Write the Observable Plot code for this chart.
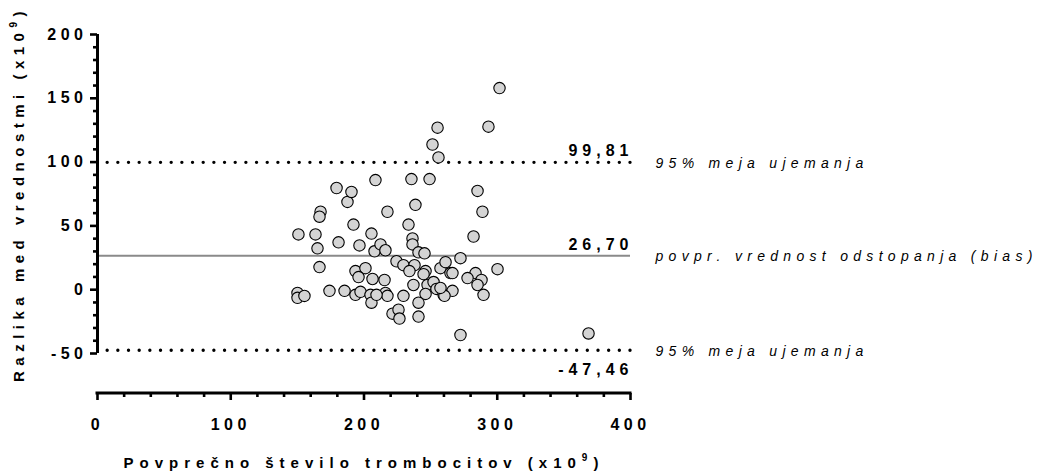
<!DOCTYPE html>
<html>
<head>
<meta charset="utf-8">
<script src="https://cdn.jsdelivr.net/npm/d3@7"></script>
<script src="https://cdn.jsdelivr.net/npm/@observablehq/plot@0.6"></script>
<style>
  html, body { margin: 0; padding: 0; background: #fff; }
  #chart { width: 1037px; height: 474px; }
</style>
</head>
<body>
<div id="chart"></div>
<script>
// Average of the two methods (x10^9)
const avgCount = [
  150.8, 163.6, 165.1, 180.9, 166.6, 150.1, 150.1, 155.3, 174.1, 185.4,
  167.4, 166.6, 187.6, 192.1, 193.6, 179.4, 190.6, 196.6, 205.6, 207.9,
  208.6, 201.1, 195.9, 206.4, 193.6, 197.4, 204.9, 205.6, 235.6, 249.2,
  238.6, 217.6, 233.4, 236.4, 236.4, 212.4, 216.1, 240.9, 245.4, 224.4,
  229.6, 237.9, 234.1, 246.2, 244.7, 257.4, 261.2, 264.9, 215.4, 237.1,
  247.7, 252.2, 254.4, 246.2, 240.9, 259.7, 229.6, 216.1, 217.6, 209.4,
  221.4, 225.9, 226.6, 240.9, 301.7, 293.4, 255.2, 251.4, 255.9, 285.2,
  288.9, 282.2, 272.4, 266.4, 300.2, 283.7, 277.7, 288.2, 285.2, 289.7,
  266.4, 260.4, 257.4, 272.4, 368.5
];
// Difference between the two methods (x10^9)
const diffCount = [
  43.3, 43.3, 32.4, 37.1, 17.7, -2.5, -6.4, -4.9, -0.9, -0.9,
  61.1, 57.2, 68.8, 51.0, 14.6, 79.7, 76.6, 34.7, 44.0, 30.1,
  85.9, 16.9, 9.9, 8.4, -4.0, -1.7, -4.0, -10.2, 86.7, 86.7,
  66.5, 61.1, 51.0, 40.2, 35.5, 35.5, 30.9, 29.3, 28.5, 22.3,
  19.2, 19.2, 14.6, 14.6, 12.2, 16.9, 21.6, 13.0, 7.6, 3.7,
  3.7, 6.0, 0.6, -3.3, -10.2, -4.0, -4.8, -2.5, -4.8, -4.0,
  -18.8, -15.7, -22.6, -21.1, 158.0, 127.8, 127.0, 113.8, 103.7, 77.4,
  61.1, 41.7, 24.7, 13.0, 16.1, 13.0, 9.1, 7.6, 3.7, -4.0,
  -0.9, -4.8, 1.4, -35.5, -34.3
];

// Reference lines: upper limit, bias, lower limit
const limitValues = [99.81, 26.70, -47.46];
const limitText = ["99,81", "26,70", "-47,46"];
const limitDesc = ["95% meja ujemanja", "povpr. vrednost odstopanja (bias)", "95% meja ujemanja"];

// Axis ticks
const xTicks = [0, 100, 200, 300, 400];
const xMinorTicks = [20, 40, 60, 80, 120, 140, 160, 180, 220, 240, 260, 280, 320, 340, 360, 380];
const yTicks = [-50, 0, 50, 100, 150, 200];
const yMinorTicks = [-40, -30, -20, -10, 10, 20, 30, 40, 60, 70, 80, 90, 110, 120, 130, 140, 160, 170, 180, 190];

const xTitle = "Povprečno število trombocitov (x10";
const yTitle = "Razlika med vrednostmi (x10";
const superscript = "9";

const points = avgCount.map((x, i) => ({x, y: diffCount[i]}));
const upperLower = [limitValues[0], limitValues[2]];

const FONT = "'Liberation Sans', Arial, Helvetica, sans-serif";

const xAxisLine = (index, scales, values, dims) => {
  const yPos = dims.height - dims.marginBottom;
  const line = d3.create("svg:line")
    .attr("x1", scales.x(xTicks[0]))
    .attr("x2", scales.x(xTicks[xTicks.length - 1]))
    .attr("y1", yPos).attr("y2", yPos)
    .attr("stroke", "black").attr("stroke-width", 3)
    .attr("stroke-linecap", "square");
  return line.node();
};

const chart = Plot.plot({
  width: 1037,
  height: 474,
  marginLeft: 97,
  marginRight: 407,
  marginTop: 34,
  marginBottom: 81,
  x: {domain: [0, 400]},
  y: {domain: [-50, 200], range: [353, 34]},
  style: {fontFamily: FONT, fontSize: "16px", color: "black", background: "white", overflow: "visible"},
  marks: [
    // limit lines (dotted)
    Plot.ruleY(upperLower, {x1: 400, x2: 0, stroke: "black", strokeWidth: 3.4, strokeDasharray: "0,10.67", strokeLinecap: "round"}),
    // bias line
    Plot.ruleY([limitValues[1]], {x1: 0, x2: 400, stroke: "#8a8a8a", strokeWidth: 2}),
    // y axis
    Plot.ruleX([0], {y1: -50, y2: 200, stroke: "black", strokeWidth: 3}),
    Plot.axisY(yTicks, {anchor: "left", tickSize: 7, strokeWidth: 2.6, tickPadding: 3, fontWeight: "bold", fontSize: 16, label: null, tickFormat: d => String(d)}),
    Plot.axisY(yMinorTicks, {anchor: "left", tickSize: 4, strokeWidth: 2.6, label: null, tickFormat: () => ""}),
    // x axis
    xAxisLine,
    Plot.axisX(xTicks, {anchor: "bottom", tickSize: 7, strokeWidth: 2.6, tickPadding: 18, fontWeight: "bold", fontSize: 16, label: null, tickFormat: d => String(d)}),
    Plot.axisX(xMinorTicks, {anchor: "bottom", tickSize: 4, strokeWidth: 2.6, label: null, tickFormat: () => ""}),
    // data points
    Plot.dot(points, {x: "x", y: "y", r: 5.7, fill: "#d4d4d4", stroke: "black", strokeWidth: 1.1}),
    // value labels
    Plot.text([0, 1], {y: i => limitValues[i], text: i => limitText[i], frameAnchor: "right", textAnchor: "end", dy: -11, dx: 3, fontWeight: "bold", fontSize: 16}),
    Plot.text([2], {y: i => limitValues[i], text: i => limitText[i], frameAnchor: "right", textAnchor: "end", dy: 20, dx: 3, fontWeight: "bold", fontSize: 16}),
    // descriptions
    Plot.text([0, 1, 2], {y: i => limitValues[i], text: i => limitDesc[i], frameAnchor: "right", textAnchor: "start", dx: 25, dy: 1, fontStyle: "italic", fontSize: 14})
  ]
});

const svg = d3.select(chart);
const tickStrings = new Set([...xTicks, ...yTicks].map(String));
svg.selectAll("text").each(function () {
  const t = this.textContent;
  const sel = d3.select(this);
  if (tickStrings.has(t)) sel.attr("letter-spacing", "4.5px").style("font-weight", "bold");
  else if (limitText.includes(t)) sel.attr("letter-spacing", "5px").style("font-weight", "bold");
  else if (limitDesc.includes(t)) sel.attr("letter-spacing", "5.3px").style("font-style", "italic");
});

// axis titles
const xt = svg.append("text")
  .attr("x", 364).attr("y", 468)
  .attr("text-anchor", "middle")
  .attr("font-family", FONT).attr("font-size", 15).attr("font-weight", "bold")
  .attr("letter-spacing", "6px").attr("fill", "black");
xt.append("tspan").text(xTitle);
xt.append("tspan").attr("dy", -7).attr("font-size", 10).text(superscript);
xt.append("tspan").attr("dy", 7).text(")");

const yt = svg.append("text")
  .attr("transform", "translate(24,194) rotate(-90)")
  .attr("text-anchor", "middle")
  .attr("font-family", FONT).attr("font-size", 15).attr("font-weight", "bold")
  .attr("letter-spacing", "5.5px").attr("fill", "black");
yt.append("tspan").text(yTitle);
yt.append("tspan").attr("dy", -7).attr("font-size", 10).text(superscript);
yt.append("tspan").attr("dy", 7).text(")");

document.getElementById("chart").appendChild(chart);
</script>
</body>
</html>
